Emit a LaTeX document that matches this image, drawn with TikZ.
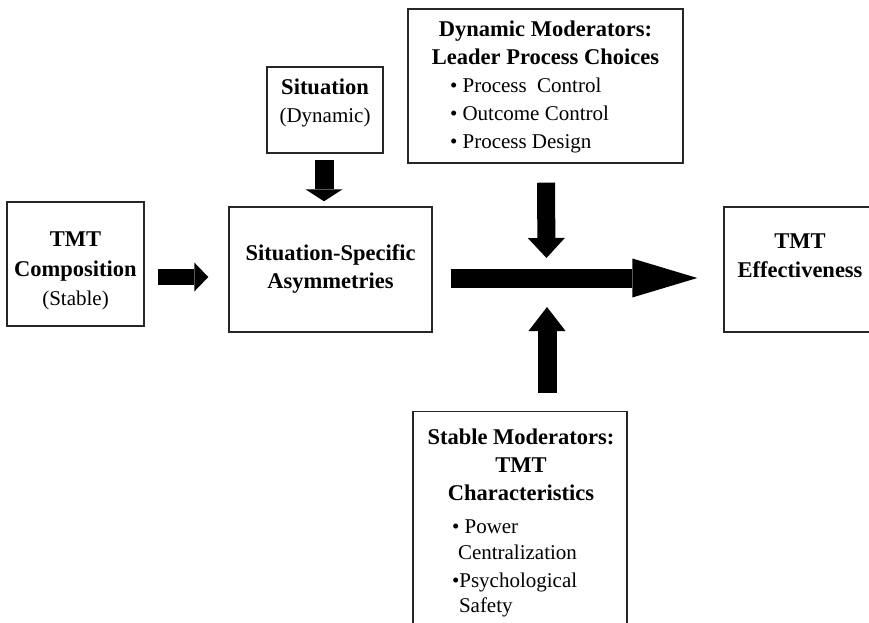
\documentclass[tikz,border=0pt]{standalone}
\usepackage{fontspec}
\setmainfont{Liberation Serif}
\usetikzlibrary{arrows.meta,calc}
\newcommand\bline[1]{{\fontsize{22.5}{28}\selectfont\bfseries #1}}
\newcommand\rline[1]{{\fontsize{21}{28}\selectfont #1}}
\begin{document}
\begin{tikzpicture}[x=1pt,y=-1pt,
  box/.style={draw=black!85, line width=1.4pt, inner sep=0pt},
  txt/.style={inner sep=0pt, align=center, font=\fontsize{22}{28}\selectfont},
  barrow/.style={draw=black, line width=#1}]
\useasboundingbox (0,0) rectangle (869,623);
\clip (0,0) rectangle (869,623);

% boxes
\node[box, minimum width=137pt, minimum height=124pt] (comp) at (75.5,264) {};
\node[box, minimum width=203pt, minimum height=125pt] (ssa) at (330.5,269.5) {};
\node[box, minimum width=116pt, minimum height=86pt] (sit) at (325,110) {};
\node[box, minimum width=275pt, minimum height=154pt] (dyn) at (545.5,86) {};
\node[box, minimum width=152pt, minimum height=125pt] (eff) at (800,269.5) {};
\node[box, minimum width=214pt, minimum height=240pt, anchor=north] (stab) at (520,411) {};
\coordinate (hub) at (546.5,278);

% texts
\node[txt] (compt) at ($(comp)+(0,7)$) {\bline{TMT}\\[2pt] \bline{Composition}\\[1pt] \rline{(Stable)}};
\node[txt] (ssat) at (ssa) {\bline{Situation-Specific}\\ \bline{Asymmetries}};
\node[txt] (sitt) at ($(sit)+(0,-7)$) {\bline{Situation}\\ \rline{(Dynamic)}};
\node[txt] (dynt) at ($(dyn)+(0,1)$) {\bline{Dynamic Moderators:}\\ \bline{Leader Process Choices}\\
  \makebox[191pt][l]{\rline{• Process\ \ Control}}\\
  \makebox[191pt][l]{\rline{• Outcome Control}}\\
  \makebox[191pt][l]{\rline{• Process Design}}};
\node[txt] (efft) at ($(eff)+(0,-14)$) {\bline{TMT}\\[1pt] \bline{Effectiveness}};
\node[txt, anchor=north] (stabt) at ($(stab.north)+(1,18)$) {\bline{Stable Moderators:}\\ \bline{TMT}\\ \bline{Characteristics}\\[5pt]
  \makebox[138pt][l]{\rline{• Power}}\\[-2pt]
  \makebox[138pt][l]{\rline{\hspace{6pt}Centralization}}\\
  \makebox[138pt][l]{\rline{•Psychological}}\\[-3pt]
  \makebox[138pt][l]{\rline{\hspace{7pt}Safety}}};

% block arrows
\draw[barrow=16pt, -{Triangle[length=14pt,width=29pt,line width=0pt]}]
  ($(comp.east)+(13,13)$) -- ($(ssa.west)+(-20,7.5)$);
\draw[barrow=19pt, -{Triangle[length=12pt,width=37pt,line width=0pt]}]
  ($(sit.south)+(-1,6)$) -- ($(ssa.north)+(-6.5,-5)$);
\draw[barrow=19pt, -{Triangle[length=65pt,width=39pt,line width=0pt]}]
  ($(ssa.east)+(18,8.5)$) -- ($(eff.west)+(-26,8.5)$);
\draw[barrow=18pt, -{Triangle[length=20pt,width=37pt,line width=0pt]}]
  ($(dyn.south)+(0.5,19)$) -- ($(hub)+(0,-20)$);
\draw[barrow=19pt, -{Triangle[length=24pt,width=37pt,line width=0pt]}]
  ($(stab.north)+(27,-18)$) -- ($(hub)+(0.5,29)$);
\end{tikzpicture}
\end{document}
